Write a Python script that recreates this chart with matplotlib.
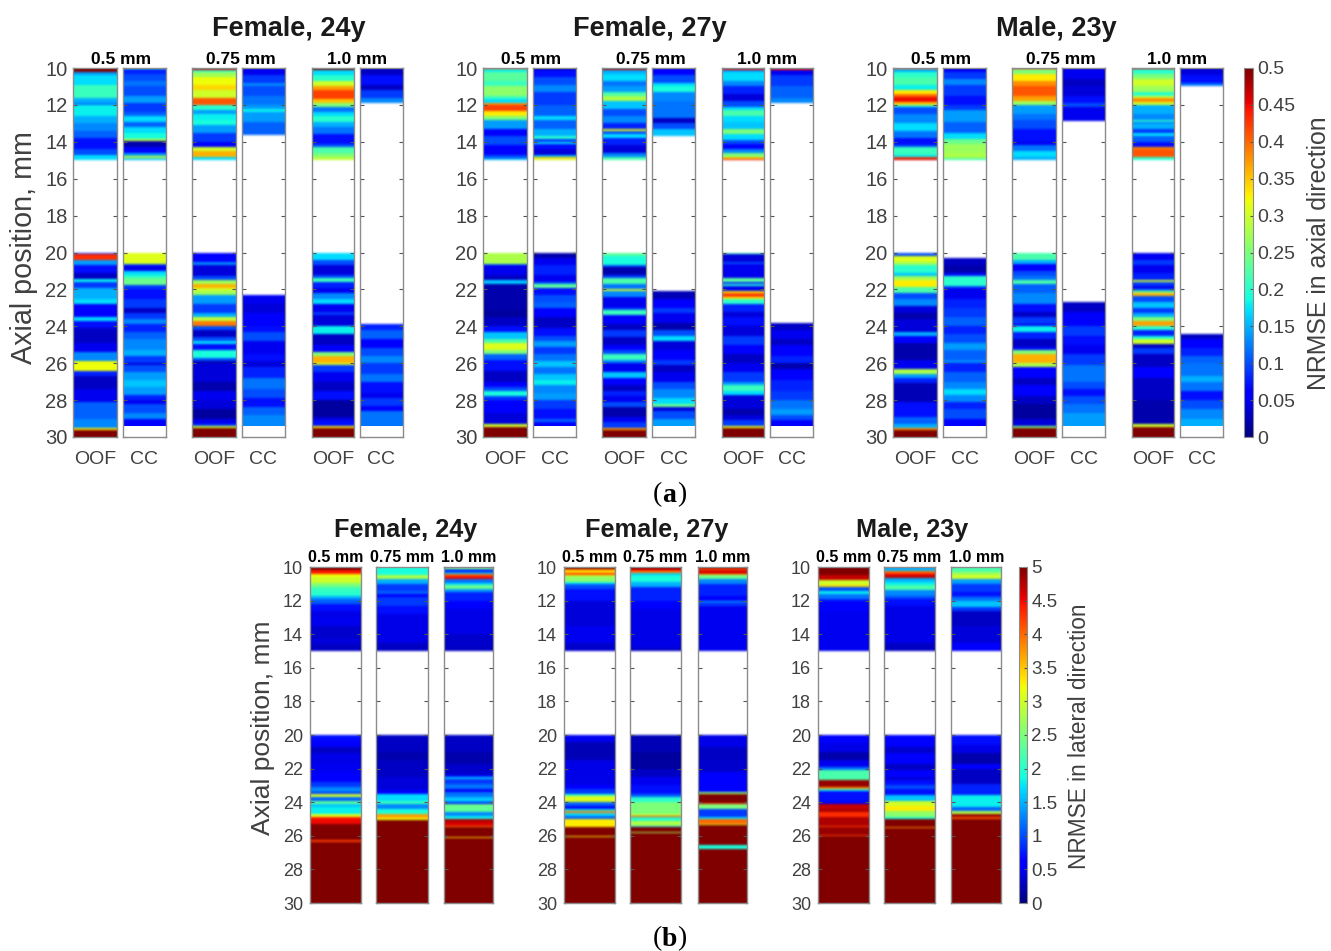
#!/usr/bin/env python

"""NRMSE per axial position, OOF and CC, three subjects, two directions."""

import numpy as np
import matplotlib
matplotlib.use('Agg')
import matplotlib.pyplot as plt

plt.rcParams['font.family'] = ['Liberation Sans', 'DejaVu Sans']

nan = float('nan')
GREY = '#404040'
W, H = 1331, 951

subjects = ['Female, 24y', 'Female, 27y', 'Male, 23y']
spacings = ['0.5 mm', '0.75 mm', '1.0 mm']
axial_ticks = [10, 12, 14, 16, 18, 20, 22, 24, 26, 28, 30]
cb_ticks_a = [0, 0.05, 0.1, 0.15, 0.2, 0.25, 0.3, 0.35, 0.4, 0.45, 0.5]
cb_labels_a = ['0', '0.05', '0.1', '0.15', '0.2', '0.25', '0.3', '0.35', '0.4', '0.45', '0.5']
cb_ticks_b = [0, 0.5, 1, 1.5, 2, 2.5, 3, 3.5, 4, 4.5, 5]
cb_labels_b = ['0', '0.5', '1', '1.5', '2', '2.5', '3', '3.5', '4', '4.5', '5']

# Each list is: band start depth, value, band start depth, value ...
# Last band runs to 30 mm, nan = no data

# (a) axial direction
f24_05_oof = [10,.5, 10.2,.14, 10.4,.17, 10.9,.21, 11.6,.15, 11.9,.12, 12,.18, 12.6,.15, 13,.13, 13.4,.11, 13.8,.07, 14.4,.1, 14.7,.17, 15,nan,
              20,.08, 20.1,.43, 20.4,.14, 20.7,.07, 21.1,.03, 21.45,.18, 21.6,.09, 21.9,.15, 22.5,.17, 22.8,.06, 23.5,.17, 23.7,.07, 24.1,.03, 24.9,.05, 25.4,.13, 25.9,.32, 26.4,.08, 26.7,.03, 27.4,.05, 28.1,.11, 29,.13, 29.5,.33, 29.6,.5]
f24_05_cc = [10,.2, 10.05,.08, 10.3,.1, 10.7,.12, 11,.1, 11.5,.14, 11.9,.09, 12.4,.11, 12.6,.17, 12.9,.11, 13.2,.17, 13.5,.19, 13.85,.3, 13.95,.02, 14.3,.06, 14.6,.14, 14.75,.3, 14.9,.16, 15,nan,
             20,.31, 20.6,.12, 20.7,.05, 21,.17, 21.2,.2, 21.4,.24, 21.75,.09, 22,.07, 22.5,.09, 23,.03, 23.3,.09, 23.6,.13, 23.9,.08, 24.3,.11, 24.7,.13, 25.3,.15, 25.6,.09, 26,.04, 26.1,.1, 26.5,.14, 26.9,.16, 27.3,.14, 27.7,.08, 28,.05, 28.2,.1, 28.7,.13, 29,.06, 29.4,nan]
f24_075_oof = [10,.46, 10.1,.2, 10.2,.27, 10.5,.32, 10.9,.34, 11.2,.3, 11.6,.41, 12,.2, 12.3,.14, 12.5,.18, 12.8,.19, 13.1,.14, 13.5,.09, 14,.06, 14.3,.3, 14.5,.36, 14.85,.17, 15,nan,
               20,.06, 20.5,.13, 20.7,.04, 21.3,.1, 21.5,.27, 21.7,.36, 21.9,.3, 22.1,.27, 22.3,.14, 22.8,.09, 23.3,.15, 23.5,.29, 23.7,.39, 24,.1, 24.2,.03, 24.6,.1, 24.8,.17, 24.95,.07, 25.3,.19, 25.7,.1, 25.9,.02, 26,.04, 27,.02, 27.5,.05, 28,.04, 28.5,.015, 29,.05, 29.3,.09, 29.4,.3, 29.5,.5]
f24_075_cc = [10,.05, 10.4,.09, 10.8,.13, 11,.1, 11.5,.12, 12,.14, 12.2,.18, 12.4,.14, 12.9,.11, 13.65,nan,
              22.3,.05, 22.8,.04, 23.3,.06, 24,.07, 24.3,.1, 24.8,.05, 25.5,.07, 25.9,.04, 26.2,.08, 26.8,.12, 27.4,.1, 27.9,.07, 28.4,.11, 28.8,.13, 29.4,nan]
f24_10_oof = [10,.5, 10.1,.17, 10.4,.2, 10.7,.3, 11,.37, 11.2,.42, 11.7,.35, 11.9,.25, 12.1,.12, 12.4,.17, 12.6,.2, 12.9,.15, 13.2,.12, 13.6,.07, 14.1,.1, 14.3,.22, 14.6,.25, 14.8,.29, 15,nan,
              20,.17, 20.4,.1, 20.7,.04, 21.2,.1, 21.4,.21, 21.6,.08, 21.9,.05, 22.2,.13, 22.5,.17, 22.8,.05, 23.2,.09, 23.4,.04, 24,.18, 24.4,.03, 25,.06, 25.4,.25, 25.6,.36, 26,.3, 26.1,.09, 26.5,.05, 27,.03, 27.5,.07, 28,.015, 28.9,.04, 29.1,.07, 29.4,.33, 29.5,.5]
f24_10_cc = [10,.03, 10.4,.07, 10.9,.03, 11.2,.09, 11.6,.13, 11.9,nan,
             23.9,.08, 24.2,.11, 24.7,.06, 25.2,.1, 25.6,.13, 26,.09, 26.6,.12, 27,.07, 27.6,.05, 27.9,.09, 28.3,.06, 28.6,.12, 29.4,nan]

f27_05_oof = [10,.4, 10.05,.18, 10.2,.23, 10.7,.21, 11,.26, 11.5,.21, 11.7,.17, 11.9,.38, 12,.42, 12.35,.33, 12.6,.25, 12.8,.14, 13.3,.06, 13.7,.1, 14.2,.06, 14.7,.1, 14.9,.15, 15,nan,
              20,.28, 20.6,.12, 20.7,.05, 21.2,.03, 21.5,.16, 21.7,.02, 23.1,.015, 23.5,.03, 24,.07, 24.3,.16, 24.7,.22, 24.9,.31, 25.3,.25, 25.5,.11, 25.8,.07, 26.4,.03, 27,.06, 27.3,.1, 27.5,.19, 27.8,.09, 28,.06, 28.7,.04, 29.3,.3, 29.45,.5]
f27_05_cc = [10,.03, 10.1,.07, 10.5,.1, 10.9,.13, 11.3,.09, 12,.11, 12.6,.17, 12.8,.11, 13.3,.15, 13.7,.2, 13.85,.09, 14,.17, 14.1,.07, 14.4,.04, 14.7,.15, 14.8,.34, 14.95,.3, 15,nan,
             20,.02, 20.3,.05, 20.7,.08, 21.2,.05, 21.6,.11, 21.7,.23, 21.9,.07, 22.3,.1, 22.7,.11, 23,.06, 23.5,.03, 24.1,.07, 24.5,.1, 24.8,.14, 25.1,.09, 25.5,.12, 25.9,.16, 26.2,.12, 26.6,.16, 26.9,.18, 27.2,.13, 27.6,.14, 28,.09, 28.5,.07, 29,.11, 29.2,.06, 29.4,nan]
f27_075_oof = [10,.47, 10.1,.15, 10.3,.17, 10.7,.12, 11,.14, 11.3,.22, 11.5,.28, 11.8,.16, 12.2,.1, 12.6,.13, 13,.08, 13.3,.32, 13.4,.1, 13.6,.17, 13.8,.08, 14.2,.04, 14.6,.13, 14.8,.22, 15,nan,
               20,.23, 20.2,.19, 20.7,.1, 20.8,.02, 21.2,.09, 21.4,.22, 21.7,.12, 22,.3, 22.1,.13, 22.4,.05, 23,.1, 23.1,.21, 23.4,.06, 23.9,.03, 24.2,.09, 24.6,.03, 25,.06, 25.3,.1, 25.5,.21, 25.8,.13, 26,.05, 26.5,.16, 26.8,.06, 27.2,.03, 27.5,.08, 27.8,.05, 28.1,.1, 28.4,.02, 28.9,.05, 29.2,.09, 29.5,.37, 29.6,.5]
f27_075_cc = [10,.06, 10.4,.1, 10.8,.17, 11,.19, 11.3,.13, 11.8,.12, 12.7,.03, 13,.1, 13.3,.16, 13.7,nan,
              22.1,.025, 22.5,.06, 23,.09, 23.3,.05, 23.8,.02, 24.2,.1, 24.5,.17, 24.8,.04, 25.3,.06, 25.8,.09, 26.1,.03, 26.5,.05, 27,.1, 27.4,.13, 27.9,.17, 28.2,.24, 28.4,.04, 28.6,.1, 29,.14, 29.4,nan]
f27_10_oof = [10,.45, 10.1,.14, 10.2,.17, 10.7,.13, 11,.08, 11.4,.04, 11.8,.1, 12.1,.17, 12.3,.22, 12.6,.17, 12.9,.16, 13.3,.25, 13.6,.17, 13.9,.1, 14.1,.06, 14.4,.13, 14.6,.25, 14.85,.35, 14.95,.45, 15,nan,
              20,.22, 20.1,.04, 20.5,.1, 20.6,.05, 21.4,.23, 21.6,.08, 21.7,.2, 21.8,.05, 22.1,.33, 22.2,.42, 22.4,.33, 22.5,.2, 22.8,.08, 23.2,.04, 23.5,.07, 24,.04, 24.5,.09, 25,.06, 25.5,.03, 26,.05, 26.5,.09, 27,.14, 27.2,.21, 27.5,.17, 27.7,.04, 28.5,.02, 28.8,.04, 29.1,.09, 29.4,.32, 29.5,.5]
f27_10_cc = [10,.44, 10.1,.05, 10.4,.09, 11,.11, 11.6,.13, 11.9,nan,
             23.8,.03, 24.2,.05, 24.7,.03, 25,.06, 25.6,.08, 26,.02, 26.3,.06, 26.9,.08, 27.5,.09, 28,.12, 28.5,.14, 28.8,.1, 29.1,.06, 29.4,nan]

m23_05_oof = [10,.4, 10.05,.15, 10.2,.2, 10.5,.22, 10.9,.18, 11.2,.33, 11.4,.4, 11.55,.45, 11.85,.35, 12,.2, 12.1,.1, 12.5,.13, 13,.17, 13.4,.12, 13.8,.07, 14.2,.1, 14.3,.21, 14.7,.17, 14.8,.4, 14.9,.46, 15,nan,
              20,.28, 20.05,.1, 20.2,.31, 20.5,.27, 20.7,.2, 21.1,.16, 21.3,.27, 21.5,.33, 21.85,.22, 22.2,.1, 22.5,.13, 22.9,.04, 23.3,.02, 23.6,.04, 24.3,.15, 24.5,.06, 24.9,.02, 25.8,.05, 26.3,.28, 26.6,.14, 26.8,.08, 27.1,.025, 28.1,.07, 28.9,.11, 29.3,.15, 29.5,.38, 29.6,.5]
m23_05_cc = [10,.05, 10.2,.09, 10.6,.13, 10.9,.09, 11.5,.07, 12,.09, 12.3,.14, 12.9,.11, 13.5,.17, 13.85,.24, 14.1,.27, 14.6,.28, 14.9,.22, 15,nan,
             20.3,.03, 20.7,.02, 21.1,.07, 21.3,.2, 21.8,.1, 21.9,.05, 22.5,.08, 23,.09, 23.5,.11, 24,.08, 24.4,.1, 24.9,.14, 25.3,.11, 25.8,.13, 26,.08, 26.5,.11, 27,.13, 27.4,.17, 27.7,.13, 28.1,.08, 28.5,.1, 29,.06, 29.4,nan]
m23_075_oof = [10,.43, 10.05,.25, 10.3,.33, 10.7,.38, 11,.41, 11.5,.37, 11.8,.27, 12,.14, 12.5,.12, 12.8,.1, 13.3,.07, 14,.05, 14.2,.12, 14.5,.17, 14.85,.15, 15,nan,
               20,.22, 20.4,.15, 20.6,.06, 21,.1, 21.3,.12, 21.5,.22, 21.7,.11, 22.2,.13, 22.8,.07, 23.2,.03, 23.5,.09, 23.9,.05, 24,.18, 24.3,.08, 24.7,.03, 25.1,.07, 25.3,.25, 25.5,.36, 26,.28, 26.2,.06, 26.8,.03, 27.2,.06, 27.8,.03, 28.2,.015, 29,.04, 29.4,.25, 29.5,.5]
m23_075_cc = [10,.05, 10.6,.03, 11,.04, 11.5,.07, 11.9,.1, 12.1,.05, 12.85,nan,
              22.7,.03, 23.2,.06, 24,.09, 24.5,.07, 25,.05, 25.5,.09, 26.1,.12, 27,.1, 27.4,.07, 27.8,.1, 28.2,.12, 28.7,.14, 29.4,nan]
m23_10_oof = [10,.45, 10.05,.2, 10.3,.25, 10.6,.3, 11,.27, 11.3,.2, 11.5,.3, 11.6,.38, 11.85,.3, 12,.15, 12.5,.13, 12.8,.2, 12.9,.1, 13,.15, 13.3,.09, 13.5,.17, 13.7,.11, 14,.07, 14.3,.38, 14.4,.41, 14.85,.2, 15,nan,
              20,.05, 20.4,.09, 20.7,.05, 21.1,.08, 21.5,.3, 21.6,.09, 21.8,.05, 22,.13, 22.1,.25, 22.2,.36, 22.35,.1, 22.7,.16, 23,.09, 23.3,.15, 23.5,.25, 23.7,.37, 24,.2, 24.2,.08, 24.5,.19, 24.7,.3, 24.95,.03, 25.2,.09, 25.5,.03, 26.2,.06, 26.8,.03, 28,.02, 29.3,.3, 29.45,.5]
m23_10_cc = [10,.04, 10.4,.07, 10.8,.12, 11,nan,
             24.4,.03, 24.7,.06, 25.2,.08, 25.6,.11, 26,.12, 26.7,.15, 27,.12, 27.5,.07, 28,.1, 28.5,.13, 29,.15, 29.4,nan]

# (b) lateral direction
lat_f24_05 = [10,5, 10.2,4.4, 10.4,3.2, 10.6,3, 10.95,2.5, 11.2,2.1, 11.4,2, 11.7,1.5, 11.9,1.1, 12.2,.7, 12.6,.45, 13,.5, 13.5,.35, 14.2,.4, 14.6,.3, 15,nan,
              20,.7, 20.3,.6, 20.7,.3, 21.1,.45, 21.7,.5, 22.2,.6, 22.8,.9, 23.1,1.3, 23.4,.9, 23.5,3, 23.7,1.1, 23.9,2.3, 24.1,1.6, 24.3,1.8, 24.7,3.1, 24.9,4.4, 25,4.5, 25.3,5, 26.25,4.2, 26.35,5]
lat_f24_075 = [10,1.9, 10.5,2.8, 10.7,1.5, 11,.9, 11.4,1.1, 11.6,.6, 11.8,.9, 12.3,.7, 12.8,.45, 14.5,.3, 15,nan,
               20,.3, 21,.2, 21.5,.3, 22.5,.4, 23.3,.6, 23.5,1.7, 23.9,2.1, 24.1,1.3, 24.4,1.9, 24.7,3.7, 24.95,3.2, 25.05,5]
lat_f24_10 = [10,2.6, 10.1,1.2, 10.2,.7, 10.3,1.5, 10.4,4, 10.55,4.5, 10.7,1.2, 10.95,1.7, 11.1,2.4, 11.3,1.4, 11.5,.8, 12,.6, 12.5,.45, 14,.35, 14.7,.3, 15,nan,
              20,.3, 21,.2, 21.7,.35, 22.4,.7, 22.5,1.6, 22.6,.9, 22.9,1.2, 23.2,.6, 23.4,1.2, 23.7,1.6, 24,.8, 24.1,2.4, 24.4,2.3, 24.6,1.3, 24.8,1.8, 25,4.8, 25.2,4.6, 25.4,3.9, 25.5,5, 26.1,3.4, 26.15,5]
lat_f27_05 = [10,5, 10.1,4, 10.2,3.4, 10.35,4.2, 10.45,3.2, 10.55,2.6, 10.9,1.8, 11,1, 11.3,.7, 12,.4, 13.5,.5, 14.5,.35, 15,nan,
              20,.5, 20.4,.25, 21.5,.45, 23,.6, 23.2,.9, 23.5,2, 23.65,3.1, 24,1.1, 24.2,.6, 24.4,1.8, 24.55,3.9, 24.65,1.7, 24.85,1.1, 25,3.3, 25.5,5, 26,3.3, 26.05,5]
lat_f27_075 = [10,5, 10.1,4.5, 10.25,3.8, 10.35,1.6, 10.5,1.9, 10.9,1.5, 11.2,.8, 12,1, 12.05,.6, 12.5,.45, 14.8,.3, 15,nan,
               20,.25, 21,.15, 22,.3, 22.5,.5, 23,.7, 23.5,1.1, 23.7,2, 24,2.5, 24.7,2.9, 24.8,4.3, 24.9,2, 25.1,2.8, 25.4,1.6, 25.5,5, 25.75,2.7, 25.85,5]
lat_f27_10 = [10,4.7, 10.1,3.9, 10.2,4.6, 10.4,3.5, 10.5,2.4, 10.7,1.3, 11,.8, 11.7,.6, 12,1.6, 12.1,.9, 12.3,.5, 15,nan,
              20,.45, 20.7,.3, 21.5,.35, 22.2,.55, 23,.6, 23.4,2.6, 23.5,5, 24.05,4.4, 24.12,2.5, 24.38,.9, 24.88,1.7, 24.98,4, 25.27,3, 25.37,5, 26.52,1.9, 26.76,5]
lat_m23_05 = [10,5, 10.45,4.7, 10.8,3, 11.05,3.4, 11.2,1, 11.4,1.8, 11.6,1.2, 11.9,.8, 12,.6, 12.6,.5, 15,nan,
              20,.6, 20.5,.45, 21,.2, 21.5,.5, 21.9,1.2, 22.1,2.2, 22.7,4.9, 23.1,3.8, 23.2,1.8, 23.35,.7, 24,.5, 24.1,4.7, 24.4,4.8, 24.6,4.3, 24.9,4.8, 25.4,4.2, 25.5,4.9, 25.95,4.2, 26,5]
lat_m23_075 = [10,1.5, 10.25,3.9, 10.35,4.4, 10.5,4.7, 10.65,1.5, 10.9,1.8, 11.1,2.2, 11.35,1.3, 11.7,1, 11.9,.7, 12.3,.45, 14.5,.3, 15,nan,
               20,.6, 20.7,.35, 21.1,.55, 21.7,.3, 22.1,.6, 22.5,.4, 22.7,.7, 23,1, 23.2,.7, 23.6,1.6, 23.9,3, 24.2,3.3, 24.5,2.6, 24.9,1.9, 25,5, 25.5,3.8, 25.55,5, 26.05,4.4, 26.1,5]
lat_m23_10 = [10,2.2, 10.3,2.7, 10.5,3, 10.7,1.4, 11,.9, 11.5,.7, 11.65,.8, 11.8,1.2, 12,1.6, 12.4,.9, 12.6,.3, 13.5,.4, 14.5,.6, 15,nan,
              20,.7, 20.6,.45, 21.1,.2, 21.7,.6, 22,.3, 22.9,.8, 23.6,1.8, 24.3,1.1, 24.5,2.8, 24.7,4.9, 24.9,4.1, 25,5]

axial_cols = [
    [f24_05_oof, f24_05_cc, f24_075_oof, f24_075_cc, f24_10_oof, f24_10_cc],
    [f27_05_oof, f27_05_cc, f27_075_oof, f27_075_cc, f27_10_oof, f27_10_cc],
    [m23_05_oof, m23_05_cc, m23_075_oof, m23_075_cc, m23_10_oof, m23_10_cc],
]
lateral_cols = [
    [lat_f24_05, lat_f24_075, lat_f24_10],
    [lat_f27_05, lat_f27_075, lat_f27_10],
    [lat_m23_05, lat_m23_075, lat_m23_10],
]

# pixel layout
a_top, a_bot = 68, 437
a_x = [(73, 117), (123, 165.5), (192, 235.5), (241.5, 285), (311.5, 354), (360, 403)]
a_shift = [0, 410.3, 820.3]
a_title_x = [289, 650, 1056]
b_top, b_bot = 567, 903
b_x = [[(310, 361), (376, 427.5), (444, 493.5)],
       [(564, 614.5), (630, 681), (698, 747.5)],
       [(818, 868.5), (884, 935), (951.5, 1001.5)]]
b_title_x = [405.5, 657, 912]


def soften(img, dpi):
    # the source picture is a resampled bitmap, so bands bleed a little
    a = img[..., 3:]
    rgb = img[..., :3] * a + (1 - a)
    pad = np.pad(rgb, ((2, 2), (0, 0), (0, 0)), mode='edge')
    out = (pad[:-4] + 3 * pad[1:-3] + 4 * pad[2:-2] + 3 * pad[3:-1] + pad[4:]) / 12
    return np.dstack([out, np.ones(out.shape[:2])]), 0, 0


def px_axes(fig, x0, x1, top, bot):
    return fig.add_axes([x0 / W, 1 - bot / H, (x1 - x0) / W, (bot - top) / H])


def draw_column(ax, bands, vmax, tick_size, pad):
    arr = np.array(bands, dtype=float).reshape(-1, 2)
    edges = np.append(arr[:, 0], 30.0)
    vals = np.ma.masked_invalid(arr[:, 1]).reshape(-1, 1)
    mesh = ax.pcolormesh([0, 1], edges, vals, cmap='jet', vmin=0, vmax=vmax, antialiased=False)
    mesh.set_agg_filter(soften)
    ax.set_ylim(30, 10)
    ax.set_xlim(0, 1)
    ax.set_xticks([])
    ax.set_yticks(axial_ticks)
    ax.tick_params(axis='y', direction='in', length=3, width=0.8, color='#555555', left=True, right=True,
                   labelleft=False, labelsize=tick_size, labelcolor=GREY, pad=pad)
    for s in ax.spines.values():
        s.set_color('#8c8c8c')
        s.set_linewidth(1.0)
    return mesh


fig = plt.figure(figsize=(W / 100, H / 100), dpi=100)

# panel (a)
for i, columns in enumerate(axial_cols):
    sx = a_shift[i]
    for j, bands in enumerate(columns):
        x0, x1 = a_x[j][0] + sx, a_x[j][1] + sx
        ax = px_axes(fig, x0, x1, a_top, a_bot)
        mesh_a = draw_column(ax, bands, 0.5, 14.5, 4)
        if j == 0:
            ax.tick_params(labelleft=True)
        fig.text((x0 + x1) / 2 / W, 1 - 460 / H, 'OOF' if j % 2 == 0 else 'CC', color=GREY,
                 fontsize=14, ha='center', va='center')
    for k, name in enumerate(spacings):
        mid = (a_x[2 * k][0] + a_x[2 * k + 1][1]) / 2 + sx
        fig.text((mid + (2 if k < 2 else 0)) / W, 1 - 59 / H, name, fontsize=12.5, fontweight='bold',
                 ha='center', va='center')
    fig.text(a_title_x[i] / W, 1 - 29 / H, subjects[i], fontsize=19.5, fontweight='bold', color='#1a1a1a',
             ha='center', va='center')

fig.text(24 / W, 1 - 248 / H, 'Axial position, mm', rotation=90, fontsize=20.7, color=GREY,
         ha='center', va='center')

cax = px_axes(fig, 1244, 1253, a_top, a_bot)
cb = fig.colorbar(mesh_a, cax=cax)
cb.set_ticks(cb_ticks_a, labels=cb_labels_a)
cb.ax.tick_params(labelsize=14, labelcolor=GREY, length=2, direction='in', color='#555555', pad=3)
cb.outline.set_edgecolor('#8c8c8c')
fig.text(1319 / W, 1 - 253 / H, 'NRMSE in axial direction', rotation=90, fontsize=17.9, color=GREY,
         ha='center', va='center')

# panel (b)
for i, columns in enumerate(lateral_cols):
    for j, bands in enumerate(columns):
        x0, x1 = b_x[i][j]
        ax = px_axes(fig, x0, x1, b_top, b_bot)
        mesh_b = draw_column(ax, bands, 5, 13, 5)
        if j == 0:
            ax.tick_params(labelleft=True)
        fig.text((x0 + x1) / 2 / W, 1 - 558 / H, spacings[j], fontsize=11.5, fontweight='bold',
                 ha='center', va='center')
    fig.text(b_title_x[i] / W, 1 - 530 / H, subjects[i], fontsize=18.2, fontweight='bold', color='#1a1a1a',
             ha='center', va='center')

fig.text(263 / W, 1 - 728 / H, 'Axial position, mm', rotation=90, fontsize=19, color=GREY,
         ha='center', va='center')

cax = px_axes(fig, 1019, 1027, b_top, b_bot)
cb = fig.colorbar(mesh_b, cax=cax)
cb.set_ticks(cb_ticks_b, labels=cb_labels_b)
cb.ax.tick_params(labelsize=13.5, labelcolor=GREY, length=2, direction='in', color='#555555', pad=3)
cb.outline.set_edgecolor('#8c8c8c')
fig.text(1079 / W, 1 - 736 / H, 'NRMSE in lateral direction', rotation=90, fontsize=16.3, color=GREY,
         ha='center', va='center')

# captions, bold letter between plain brackets
for cap, xc, yc in [('a', 669.5, 495), ('b', 669.5, 939)]:
    fig.text((xc - 12.5) / W, 1 - yc / H, '(', family='Liberation Serif', fontsize=20, ha='center', va='center')
    fig.text(xc / W, 1 - yc / H, cap, family='Liberation Serif', fontsize=20, fontweight='bold',
             ha='center', va='center')
    fig.text((xc + 12.5) / W, 1 - yc / H, ')', family='Liberation Serif', fontsize=20, ha='center', va='center')

fig.savefig('out.png', dpi=100)
